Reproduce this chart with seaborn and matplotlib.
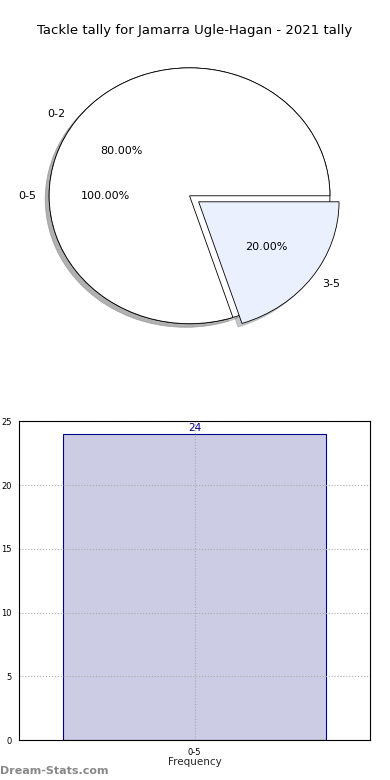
import matplotlib
matplotlib.use("Agg")
import matplotlib.pyplot as plt
import seaborn as sns
import pandas as pd

# data
title = "Tackle tally for Jamarra Ugle-Hagan - 2021 tally"
outer_labels = ["0-5"]
outer_values = [100.0]
inner_labels = ["0-2", "3-5"]
inner_values = [80.0, 20.0]
bar_labels = ["0-5"]
bar_values = [24]

sns.set_style("white")
plt.rcParams["font.family"] = ["DejaVu Sans"]
plt.rcParams["text.color"] = "black"

fig = plt.figure(figsize=(3.9, 7.8), dpi=100)

shadow = {"ox": -0.02, "oy": -0.02, "shade": 0.4}

# pie (two pies drawn on top of each other)
ax1 = fig.add_axes([0.036, 0.544, 0.9, 0.41])
ax1.pie(outer_values, labels=outer_labels, autopct="%.2f%%", startangle=0,
        colors=["white"], shadow=shadow, pctdistance=0.6, labeldistance=1.09,
        wedgeprops={"edgecolor": "black", "linewidth": 0.6},
        textprops={"fontsize": 8})
ax1.pie(inner_values, labels=inner_labels, autopct="%.2f%%", startangle=0,
        colors=["white", "#eaf0fd"], explode=[0, 0.08], shadow=shadow,
        pctdistance=0.6, labeldistance=1.09,
        wedgeprops={"edgecolor": "black", "linewidth": 0.6},
        textprops={"fontsize": 8})
ax1.set_aspect("auto")
ax1.set_xlim(-1.25, 1.25)
ax1.set_ylim(-1.25, 1.25)
fig.text(0.5, 0.961, title, ha="center", va="center", fontsize=9.5)

# bar
ax2 = fig.add_axes([0.049, 0.051, 0.9, 0.409])
df = pd.DataFrame({"bin": bar_labels, "count": bar_values})
sns.barplot(data=df, x="bin", y="count", ax=ax2, width=0.75,
            color="#cccce4", edgecolor="#00008b", linewidth=0.8, saturation=1)
ax2.set_xlim(-0.5, 0.5)
ax2.set_ylim(0, 25)
ax2.set_yticks([0, 5, 10, 15, 20, 25])
ax2.tick_params(labelsize=6, length=2, width=0.5, colors="black")
ax2.grid(True, linestyle=":", color="#aaaaaa", linewidth=0.8)
ax2.set_axisbelow(False)
for s in ax2.spines.values():
    s.set_color("black")
    s.set_linewidth(0.8)
    s.set_zorder(5)
for i, v in enumerate(bar_values):
    ax2.text(i, v + 0.1, str(v), ha="center", va="bottom", color="#00008b", fontsize=7.5)
ax2.set_xlabel("Frequency", fontsize=7.5, labelpad=0)
ax2.set_ylabel("Total Match Tally", fontsize=7.5, labelpad=6)

fig.text(0.0, 0.012, "Dream-Stats.com", color="#888888", fontsize=8,
         fontweight="bold", ha="left", va="center")

fig.savefig("out.png", dpi=100)
